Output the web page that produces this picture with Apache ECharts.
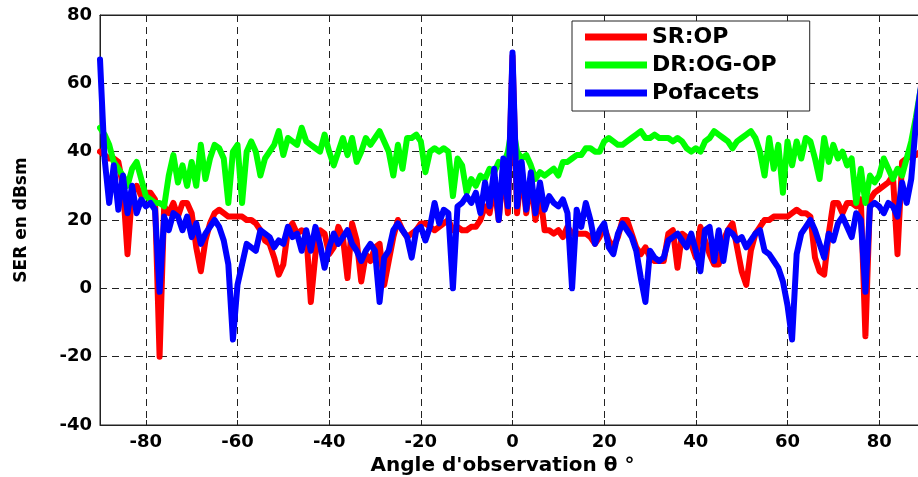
<!DOCTYPE html>
<html>
<head>
<meta charset="utf-8">
<script src="https://cdn.jsdelivr.net/npm/echarts@6/dist/echarts.min.js"></script>
<style>
html,body{margin:0;padding:0;background:#fff;}
#chart{width:918px;height:477px;}
</style>
</head>
<body>
<div id="chart"></div>
<script>
// Observation angles (degrees)
const angles = [-90,-89,-88,-87,-86,-85,-84,-83,-82,-81,-80,-79,-78,-77,-76,-75,-74,-73,-72,-71,-70,-69,-68,-67,-66,-65,-64,-63,-62,-61,-60,-59,-58,-57,-56,-55,-54,-53,-52,-51,-50,-49,-48,-47,-46,-45,-44,-43,-42,-41,-40,-39,-38,-37,-36,-35,-34,-33,-32,-31,-30,-29,-28,-27,-26,-25,-24,-23,-22,-21,-20,-19,-18,-17,-16,-15,-14,-13,-12,-11,-10,-9,-8,-7,-6,-5,-4,-3,-2,-1,0,1,2,3,4,5,6,7,8,9,10,11,12,13,14,15,16,17,18,19,20,21,22,23,24,25,26,27,28,29,30,31,32,33,34,35,36,37,38,39,40,41,42,43,44,45,46,47,48,49,50,51,52,53,54,55,56,57,58,59,60,61,62,63,64,65,66,67,68,69,70,71,72,73,74,75,76,77,78,79,80,81,82,83,84,85,86,87,88,89,90];

// SR:OP (red)
const srOP = [40,39,38,38,37,30,10,28,30,27,28,28,26,-20,24,22,25,21,25,25,22,12,5,14,19,22,23,22,21,21,21,21,20,20,19,17,14,13,9,4,7,17,19,16,17,16,-4,10,17,16,10,12,18,15,3,19,14,2,10,8,12,13,1,8,15,20,17,15,16,17,19,19,18,17,18,19,20,17,18,17,17,18,18,20,24,22,30,20,36,22,68,22,35,22,32,20,28,17,17,16,17,15,18,16,16,16,16,15,13,15,18,14,12,15,20,20,16,12,10,12,9,8,8,8,16,17,6,16,15,13,9,18,14,10,7,7,14,17,19,12,5,1,11,16,18,20,20,21,21,21,21,22,23,22,22,21,9,5,4,16,25,25,22,25,25,24,26,-14,26,28,29,30,31,33,10,37,38,39,39,40,42];

// DR:OG-OP (green)
const drOGOP = [47,45,42,37,35,33,30,35,37,32,27,26,25,25,24,33,39,31,36,30,37,30,42,32,38,42,41,38,25,40,42,25,40,43,40,33,38,40,42,46,39,44,43,42,47,43,42,41,40,45,40,36,40,44,39,44,37,40,44,42,44,46,43,40,33,42,35,44,44,45,43,34,40,41,40,41,40,27,38,36,28,32,30,33,32,35,34,37,36,40,48,40,38,39,36,32,34,33,34,35,33,37,37,38,39,39,41,41,40,40,43,44,43,42,42,43,44,45,46,44,44,45,44,44,44,43,44,43,41,40,41,40,43,44,46,45,44,43,41,43,44,45,46,44,40,33,44,35,42,28,43,36,43,38,44,43,38,32,44,37,42,38,40,36,38,25,35,25,33,31,33,38,35,32,35,33,38,43,50,58,62];

// Pofacets (blue)
const pofacets = [67,38,25,36,23,33,22,30,22,26,24,25,23,-1,21,17,22,21,17,21,15,19,13,16,18,20,18,14,7,-15,1,7,13,12,11,17,16,15,12,14,13,18,15,16,11,17,11,18,13,6,12,16,13,15,17,13,11,8,11,13,11,-4,9,11,17,19,17,15,9,17,18,14,18,25,19,23,22,0,24,25,27,25,28,22,31,24,35,20,38,24,69,24,37,23,34,22,31,23,27,25,24,26,22,0,23,18,25,20,13,17,19,12,10,16,19,17,15,11,3,-4,11,9,8,9,14,15,16,14,12,16,11,5,17,18,8,17,8,17,16,14,15,12,14,16,17,11,10,8,6,2,-5,-15,10,16,18,20,17,13,9,16,14,19,21,18,15,22,20,-1,24,25,24,22,25,24,21,31,25,32,48,58,67];

const seriesNames = ['SR:OP', 'DR:OG-OP', 'Pofacets'];
const seriesColors = ['#ff0000', '#00ff00', '#0000ff'];
const seriesValues = [srOP, drOGOP, pofacets];

const xTicks = [-80, -60, -40, -20, 0, 20, 40, 60, 80];
const yMin = -40, yMax = 80, yStep = 20;
const xMin = -90, xMax = 90;

const FONT = '"DejaVu Sans", "Liberation Sans", Arial, sans-serif';
const dash = { color: '#222', width: 1, type: [7, 5] };

const chart = echarts.init(document.getElementById('chart'), null, { renderer: 'canvas' });

const series = seriesValues.map((vals, i) => ({
  name: seriesNames[i],
  type: 'line',
  data: angles.map((a, k) => [a, vals[k]]),
  showSymbol: false,
  symbol: 'none',
  lineStyle: { color: seriesColors[i], width: 6, join: 'round', cap: 'round' },
  itemStyle: { color: seriesColors[i] },
  z: 2 + i,
  animation: false
}));

chart.setOption({
  animation: false,
  backgroundColor: '#fff',
  grid: {
    left: 100, right: -7, top: 15, bottom: 52,
    containLabel: false, outerBoundsMode: 'none',
    show: true, borderColor: '#222', borderWidth: 1, backgroundColor: 'transparent'
  },
  legend: {
    data: seriesNames.map((n, i) => ({ name: n, itemStyle: { color: seriesColors[i] } })),
    orient: 'vertical',
    left: 572,
    top: 21,
    itemWidth: 62,
    itemHeight: 7,
    itemGap: 6,
    icon: 'rect',
    padding: [5, 33, 7, 13],
    backgroundColor: '#fff',
    borderColor: '#222',
    borderWidth: 1,
    borderRadius: 0,
    textStyle: { fontFamily: FONT, fontWeight: 'bold', fontSize: 22, color: '#000', lineHeight: 20 }
  },
  xAxis: [{
    type: 'value',
    min: xMin,
    max: xMax,
    position: 'bottom',
    name: 'Angle d\'observation θ °',
    nameLocation: 'middle',
    nameGap: 29,
    nameTextStyle: { fontFamily: FONT, fontWeight: 'bold', fontSize: 20, color: '#000', padding: [0, 20, 0, 0] },
    axisLine: { show: true, onZero: false, lineStyle: { color: '#222', width: 1 } },
    axisTick: { show: true, inside: true, length: 5, customValues: xTicks, lineStyle: { color: '#222' } },
    axisLabel: {
      show: true, margin: 8, customValues: xTicks,
      fontFamily: FONT, fontWeight: 'bold', fontSize: 18, color: '#000'
    },
    splitLine: { show: true, lineStyle: dash }
  }, {
    type: 'value',
    min: xMin,
    max: xMax,
    position: 'top',
    axisLine: { show: true, onZero: false, lineStyle: { color: '#222', width: 1 } },
    axisTick: { show: true, inside: true, length: 5, customValues: xTicks, lineStyle: { color: '#222' } },
    axisLabel: { show: false },
    splitLine: { show: false }
  }],
  yAxis: {
    type: 'value',
    min: yMin,
    max: yMax,
    interval: yStep,
    name: 'SER en dBsm',
    nameLocation: 'middle',
    nameGap: 70,
    nameRotate: 90,
    nameTextStyle: { fontFamily: FONT, fontWeight: 'bold', fontSize: 17, color: '#000' },
    axisLine: { show: true, onZero: false, lineStyle: { color: '#222', width: 1 } },
    axisTick: { show: true, inside: true, length: 5, lineStyle: { color: '#222' } },
    axisLabel: { margin: 8, fontFamily: FONT, fontWeight: 'bold', fontSize: 18, color: '#000' },
    splitLine: { show: true, lineStyle: dash }
  },
  series: series
});
</script>
</body>
</html>
